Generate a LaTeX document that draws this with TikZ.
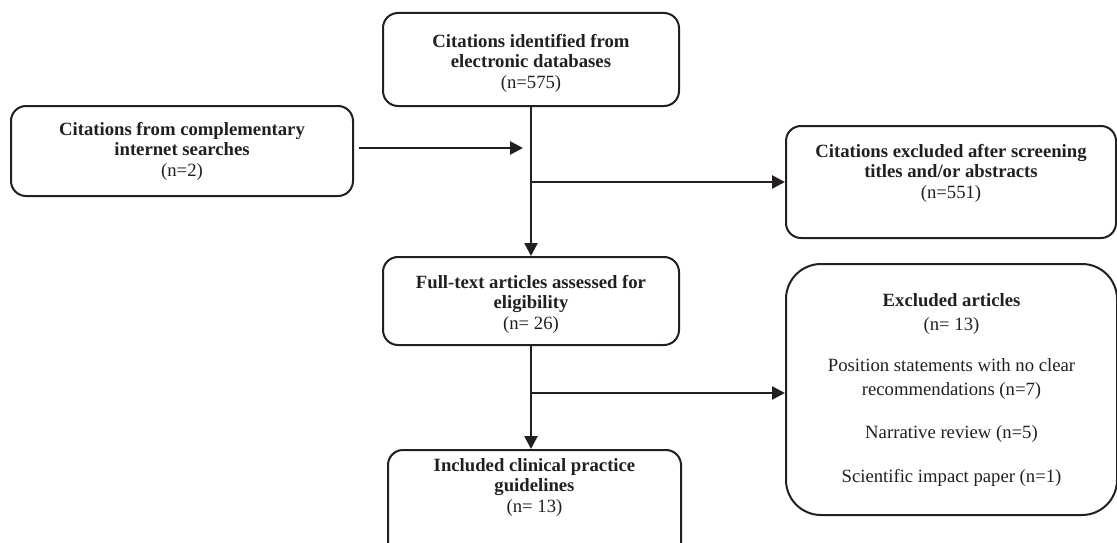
\documentclass[tikz,border=0pt]{standalone}
\usepackage{fontspec}
\setmainfont{Liberation Serif}
\usetikzlibrary{arrows.meta}
\definecolor{ink}{RGB}{35,31,32}
\begin{document}
\begin{tikzpicture}[x=1pt,y=-1pt,
  box/.style={draw=ink, line width=2pt, rounded corners=15pt, inner sep=0pt, align=center, text=ink, font=\fontsize{18.7}{20.5}\selectfont},
  txt/.style={align=center, text=ink, inner sep=0pt, font=\fontsize{18.7}{20.5}\selectfont},
  conn/.style={draw=ink, line width=2.6pt},
  arr/.style={conn, -{Triangle[length=13pt,width=13pt]}}]
\useasboundingbox (0,0) rectangle (1117,543);
\clip (0,0) rectangle (1117,543);
\node[box, minimum width=296, minimum height=93] (top) at (531,59.5) {};
\node[txt] (toptxt) at (531,63)
  {\textbf{Citations identified from}\\\textbf{electronic databases}\\(n=575)};
\node[box, minimum width=342, minimum height=90] (left) at (182,151)
  {\textbf{Citations from complementary}\\\textbf{internet searches}\\(n=2)};
\node[box, minimum width=330, minimum height=112] (right1) at (951,182) {};
\node[txt] (right1txt) at (951,173)
  {\textbf{Citations excluded after screening}\\\textbf{titles and/or abstracts}\\(n=551)};
\node[box, minimum width=296, minimum height=88] (fulltext) at (531,301) {};
\node[txt] (fulltexttxt) at (531,304)
  {\textbf{Full-text articles assessed for}\\\textbf{eligibility}\\(n= 26)};
\node[box, minimum width=293, minimum height=151, anchor=north] (included) at (534.5,449) {};
\node[txt] (includedtxt) at (534.5,487)
  {\textbf{Included clinical practice}\\\textbf{guidelines}\\(n= 13)};
\node[box, rounded corners=35pt, minimum width=331, minimum height=251, font=\fontsize{18.7}{24}\selectfont] (right2) at (951.5,389.5)
  {\textbf{Excluded articles}\\(n= 13)\\[17pt]Position statements with no clear\\recommendations (n=7)\\[19pt]Narrative review (n=5)\\[20pt]Scientific impact paper (n=1)};
\coordinate (j1) at (523,148);
\draw[arr] ([xshift=5pt,yshift=3pt]left.east) -- (j1);
\draw[arr] (top.south) -- (fulltext.north);
\coordinate (b1) at (531,182);
\draw[arr] (b1) -- (right1.west |- b1);
\draw[arr] (fulltext.south) -- (fulltext.south |- included.north);
\coordinate (b2) at (531,393);
\draw[arr] (b2) -- (right2.west |- b2);
\end{tikzpicture}
\end{document}
